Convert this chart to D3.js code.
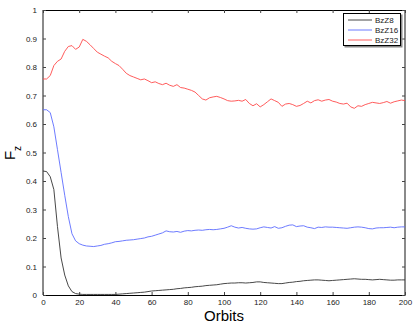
<!DOCTYPE html>
<html>
<head>
<meta charset="utf-8">
<script src="https://cdn.jsdelivr.net/npm/d3@7"></script>
<style>
body { margin: 0; background: #fff; }
svg { display: block; font-family: "Liberation Sans", Arial, sans-serif; }
</style>
</head>
<body>
<main></main>
<script>
const orbits = [0,2,4,6,8,10,12,14,16,18,20,22,24,26,28,30,32,34,36,38,40,42,44,46,48,50,52,54,56,58,60,62,64,66,68,70,72,74,76,78,80,82,84,86,88,90,92,94,96,98,100,102,104,106,108,110,112,114,116,118,120,122,124,126,128,130,132,134,136,138,140,142,144,146,148,150,152,154,156,158,160,162,164,166,168,170,172,174,176,178,180,182,184,186,188,190,192,194,196,198,200];

const bzz8 = [0.435,0.433,0.415,0.37,0.24,0.13,0.07,0.032,0.012,0.005,0.003,0.002,0.002,0.002,0.002,0.002,0.002,0.002,0.002,0.002,0.002,0.003,0.004,0.005,0.006,0.007,0.008,0.009,0.010,0.012,0.014,0.015,0.016,0.017,0.018,0.019,0.020,0.022,0.023,0.025,0.026,0.027,0.029,0.030,0.031,0.033,0.034,0.035,0.036,0.038,0.040,0.041,0.042,0.042,0.043,0.043,0.042,0.043,0.044,0.046,0.046,0.044,0.043,0.042,0.041,0.040,0.040,0.042,0.044,0.045,0.047,0.048,0.050,0.051,0.052,0.053,0.053,0.052,0.051,0.050,0.051,0.052,0.053,0.054,0.055,0.056,0.057,0.056,0.055,0.055,0.054,0.053,0.054,0.055,0.054,0.053,0.052,0.052,0.053,0.053,0.053];

const bzz16 = [0.650,0.650,0.640,0.590,0.510,0.430,0.350,0.275,0.215,0.190,0.180,0.175,0.172,0.171,0.170,0.172,0.174,0.178,0.180,0.183,0.187,0.188,0.190,0.192,0.193,0.194,0.196,0.198,0.200,0.204,0.206,0.210,0.214,0.218,0.225,0.222,0.221,0.223,0.220,0.224,0.226,0.225,0.227,0.228,0.227,0.229,0.230,0.229,0.230,0.232,0.234,0.238,0.243,0.238,0.235,0.237,0.234,0.232,0.231,0.232,0.236,0.239,0.237,0.235,0.240,0.234,0.236,0.241,0.245,0.246,0.240,0.242,0.243,0.238,0.236,0.233,0.238,0.237,0.239,0.238,0.238,0.237,0.236,0.235,0.234,0.236,0.238,0.239,0.238,0.236,0.233,0.232,0.235,0.236,0.236,0.237,0.238,0.236,0.238,0.239,0.239];

const bzz32 = [0.758,0.758,0.770,0.805,0.820,0.828,0.855,0.872,0.875,0.862,0.870,0.897,0.890,0.878,0.865,0.852,0.845,0.838,0.832,0.820,0.812,0.805,0.792,0.778,0.770,0.765,0.760,0.755,0.758,0.752,0.745,0.748,0.742,0.738,0.743,0.736,0.732,0.738,0.728,0.726,0.722,0.718,0.712,0.700,0.688,0.684,0.692,0.695,0.697,0.693,0.688,0.682,0.680,0.681,0.683,0.680,0.686,0.672,0.664,0.671,0.660,0.668,0.678,0.688,0.682,0.676,0.662,0.670,0.672,0.668,0.662,0.665,0.672,0.680,0.674,0.682,0.685,0.680,0.684,0.686,0.680,0.677,0.672,0.670,0.673,0.660,0.655,0.664,0.662,0.668,0.672,0.676,0.674,0.672,0.675,0.679,0.673,0.678,0.681,0.684,0.682];

const seriesNames = ["BzZ8", "BzZ16", "BzZ32"];
const seriesColors = ["#333333", "#5c6cff", "#ff4a4a"];
const xTicks = [0,20,40,60,80,100,120,140,160,180,200];
const yTicks = [0,0.1,0.2,0.3,0.4,0.5,0.6,0.7,0.8,0.9,1];

const w = 415, h = 325,
	m = {left: 43, right: 405, top: 10, bottom: 295};

const svg = d3.select("main").append("svg")
	.attr("width", w)
	.attr("height", h);

const xScale = d3.scaleLinear().domain([0, 200]).range([m.left, m.right]);
const yScale = d3.scaleLinear().domain([0, 1]).range([m.bottom, m.top]);

// plot frame
svg.append("line").attr("x1", m.left).attr("x2", m.right).attr("y1", m.top + 0.5).attr("y2", m.top + 0.5)
	.attr("stroke", "#000").attr("stroke-width", 1);
svg.append("line").attr("x1", m.left).attr("x2", m.right).attr("y1", m.bottom + 0.5).attr("y2", m.bottom + 0.5)
	.attr("stroke", "#000").attr("stroke-width", 1.2);
svg.append("line").attr("x1", m.left).attr("x2", m.left).attr("y1", m.top).attr("y2", m.bottom)
	.attr("stroke", "#8a8a8a").attr("stroke-width", 2);
svg.append("line").attr("x1", m.right).attr("x2", m.right).attr("y1", m.top).attr("y2", m.bottom + 1)
	.attr("stroke", "#8a8a8a").attr("stroke-width", 2);

// axes with inward ticks
const xAxis = d3.axisBottom(xScale).tickValues(xTicks).tickSize(-3).tickPadding(4).tickFormat(d3.format("d"));
const gx = svg.append("g").attr("transform", "translate(0," + m.bottom + ")").call(xAxis);
const xTop = d3.axisTop(xScale).tickValues(xTicks).tickSize(-3).tickFormat("");
const gxt = svg.append("g").attr("transform", "translate(0," + m.top + ")").call(xTop);
const yAxis = d3.axisLeft(yScale).tickValues(yTicks).tickSize(-3).tickPadding(6).tickFormat(d => String(+d.toFixed(1)));
const gy = svg.append("g").attr("transform", "translate(" + m.left + ",0)").call(yAxis);
const yRight = d3.axisRight(yScale).tickValues(yTicks).tickSize(-3).tickFormat("");
const gyr = svg.append("g").attr("transform", "translate(" + m.right + ",0)").call(yRight);

[gx, gxt, gy, gyr].forEach(g => {
	g.select(".domain").remove();
	g.selectAll(".tick line").attr("stroke", "#444");
	g.selectAll("text").attr("font-size", 8).attr("fill", "#222")
		.attr("font-family", "'Liberation Sans', Arial, sans-serif");
});

// lines
const line = d3.line()
	.x((d, i) => xScale(orbits[i]))
	.y(d => yScale(d));

[bzz8, bzz16, bzz32].forEach((s, k) => {
	svg.append("path")
		.datum(s)
		.attr("fill", "none")
		.attr("stroke", seriesColors[k])
		.attr("stroke-width", 0.9)
		.attr("stroke-linejoin", "round")
		.attr("d", line);
});

// legend
const lg = svg.append("g").attr("transform", "translate(343,13)");
lg.append("rect").attr("x", 1.5).attr("y", 1.5).attr("width", 58).attr("height", 33)
	.attr("fill", "#888");
lg.append("rect").attr("x", 0.5).attr("y", 0.5).attr("width", 57).attr("height", 32)
	.attr("fill", "#fff").attr("stroke", "#000").attr("stroke-width", 1);
seriesNames.forEach((n, k) => {
	const yy = 7 + k * 10;
	lg.append("line").attr("x1", 5).attr("x2", 29).attr("y1", yy).attr("y2", yy)
		.attr("stroke", seriesColors[k]).attr("stroke-width", 0.9);
	lg.append("text").attr("x", 32).attr("y", yy + 3).attr("font-size", 8).attr("fill", "#222").text(n);
});

// labels
svg.append("text")
	.attr("x", (m.left + m.right) / 2)
	.attr("y", 321)
	.attr("text-anchor", "middle")
	.attr("font-size", 15)
	.text("Orbits");

const yl = svg.append("text")
	.attr("transform", "translate(15,153) rotate(-90)")
	.attr("text-anchor", "middle")
	.attr("font-size", 15);
yl.append("tspan").text("F");
yl.append("tspan").attr("dy", 6).attr("font-size", 10).text("z");
</script>
</body>
</html>
